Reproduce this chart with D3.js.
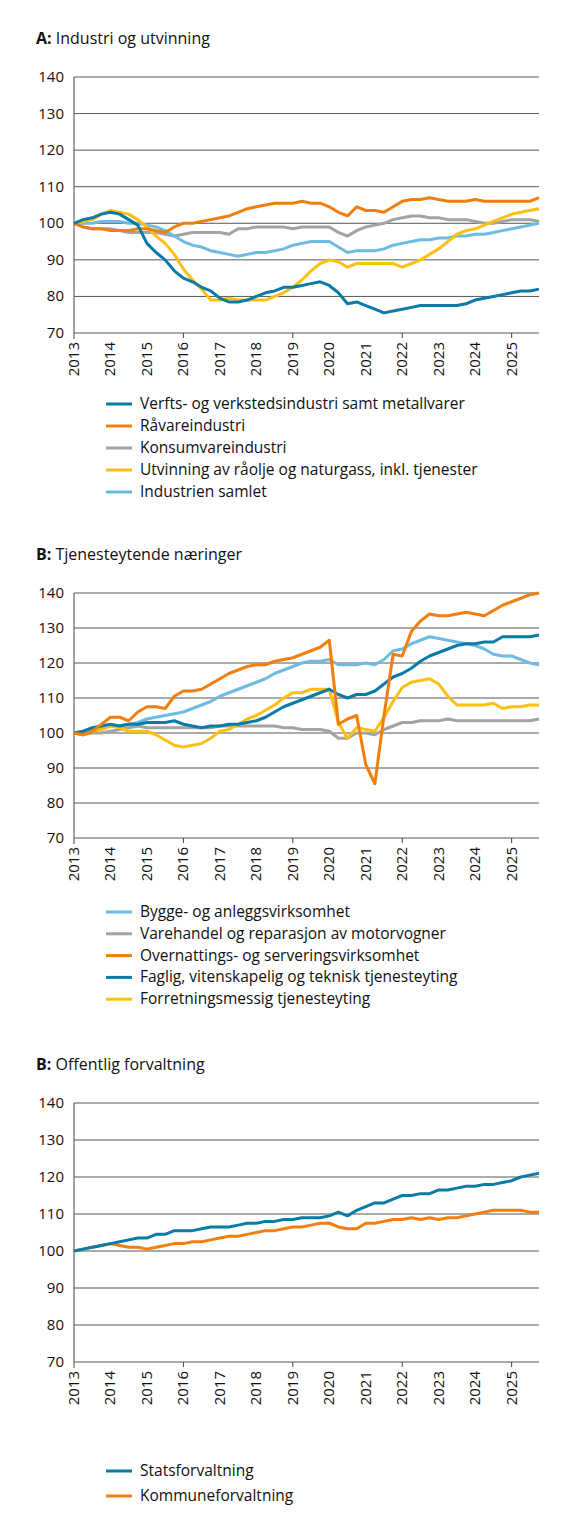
<!DOCTYPE html>
<html><head><meta charset="utf-8">
<script src="https://cdn.jsdelivr.net/npm/d3@7"></script>
<style>body{margin:0;background:#fff}svg{font-family:"Open Sans",sans-serif}</style>
</head><body><svg id="c" width="575" height="1538"></svg>
<script>
// quarterly index, 2013Q1 = 100
var years = d3.range(2013, 2026);
var yTicks = [70, 80, 90, 100, 110, 120, 130, 140];

var verksted = [100,101,101.5,102.5, 103,102.5,101,99.5, 94.5,92,90,87, 85,84,82.5,81.5, 79.5,78.5,78.5,79, 80,81,81.5,82.5, 82.5,83,83.5,84, 83,81,78,78.5, 77.5,76.5,75.5,76, 76.5,77,77.5,77.5, 77.5,77.5,77.5,78, 79,79.5,80,80.5, 81,81.5,81.5,82];
var raavare = [100,99,98.5,98.5, 98,98,98,98.5, 98.5,98,97.5,99, 100,100,100.5,101, 101.5,102,103,104, 104.5,105,105.5,105.5, 105.5,106,105.5,105.5, 104.5,103,102,104.5, 103.5,103.5,103,104.5, 106,106.5,106.5,107, 106.5,106,106,106, 106.5,106,106,106, 106,106,106,107];
var konsum = [100,99,98.5,98.5, 98.5,98,97.5,97.5, 97.5,97.5,97,96.5, 97,97.5,97.5,97.5, 97.5,97,98.5,98.5, 99,99,99,99, 98.5,99,99,99, 99,97.5,96.5,98, 99,99.5,100,101, 101.5,102,102,101.5, 101.5,101,101,101, 100.5,100,100,100.5, 101,101,101,100.5];
var utvinning = [100,100.5,101,102.5, 103.5,103,102.5,101, 99,96.5,94.5,91.5, 87.5,84.5,82,79, 79,79.5,79,79, 79,79,80,81, 82.5,84.5,87,89, 90,89.5,88,89, 89,89,89,89, 88,89,90,91.5, 93,95,97,98, 98.5,99.5,100.5,101.5, 102.5,103,103.5,104];
var industri = [100,100,100,100.5, 100.5,100.5,100,100, 99.5,99,98,96.5, 95,94,93.5,92.5, 92,91.5,91,91.5, 92,92,92.5,93, 94,94.5,95,95, 95,93.5,92,92.5, 92.5,92.5,93,94, 94.5,95,95.5,95.5, 96,96,96.5,96.5, 97,97,97.5,98, 98.5,99,99.5,100];

var bygge = [100,100.5,101,101.5, 102,102,102.5,103, 104,104.5,105,105.5, 106,107,108,109, 110.5,111.5,112.5,113.5, 114.5,115.5,117,118, 119,120,120.5,120.5, 121,119.5,119.5,119.5, 120,119.5,121,123.5, 124,125.5,126.5,127.5, 127,126.5,126,125.5, 125,124,122.5,122, 122,121,120,119.5];
var varehandel = [100,99.5,100,100, 100.5,101,101.5,102, 101.5,101.5,101.5,101.5, 101.5,101.5,101.5,101.5, 102,102,102,102, 102,102,102,101.5, 101.5,101,101,101, 100.5,98.5,98.5,100, 100,99.5,101,102, 103,103,103.5,103.5, 103.5,104,103.5,103.5, 103.5,103.5,103.5,103.5, 103.5,103.5,103.5,104];
var servering = [100,99.5,100.5,102.5, 104.5,104.5,103.5,106, 107.5,107.5,107,110.5, 112,112,112.5,114, 115.5,117,118,119, 119.5,119.5,120.5,121, 121.5,122.5,123.5,124.5, 126.5,102.5,104,105, 91,85.5,105,122.5, 122,129,132,134, 133.5,133.5,134,134.5, 134,133.5,135,136.5, 137.5,138.5,139.5,140];
var faglig = [100,100.5,101.5,102, 102.5,102,102.5,102.5, 103,103,103,103.5, 102.5,102,101.5,102, 102,102.5,102.5,103, 103.5,104.5,106,107.5, 108.5,109.5,110.5,111.5, 112.5,111,110,111, 111,112,114,116, 117,118.5,120.5,122, 123,124,125,125.5, 125.5,126,126,127.5, 127.5,127.5,127.5,128];
var forretning = [100,99.5,100.5,101, 102,101.5,100.5,100.5, 100.5,99.5,98,96.5, 96,96.5,97,98.5, 100.5,101,102.5,104, 105,106.5,108,110, 111.5,111.5,112.5,112.5, 112.5,103,98.5,101.5, 101,100.5,104.5,109, 113,114.5,115,115.5, 114,110.5,108,108, 108,108,108.5,107, 107.5,107.5,108,108];

var stat = [100,100.5,101,101.5, 102,102.5,103,103.5, 103.5,104.5,104.5,105.5, 105.5,105.5,106,106.5, 106.5,106.5,107,107.5, 107.5,108,108,108.5, 108.5,109,109,109, 109.5,110.5,109.5,111, 112,113,113,114, 115,115,115.5,115.5, 116.5,116.5,117,117.5, 117.5,118,118,118.5, 119,120,120.5,121];
var kommune = [100,100.5,101,101.5, 102,101.5,101,101, 100.5,101,101.5,102, 102,102.5,102.5,103, 103.5,104,104,104.5, 105,105.5,105.5,106, 106.5,106.5,107,107.5, 107.5,106.5,106,106, 107.5,107.5,108,108.5, 108.5,109,108.5,109, 108.5,109,109,109.5, 110,110.5,111,111, 111,111,110.5,110.5];

var C = {dblue:"#0a7ba6", orange:"#f07f0d", grey:"#a3a3a3", yellow:"#fdc010", lblue:"#6dbbe0"};

var panels = [
  {letter:"A:", title:"Industri og utvinning", top:77, bottom:333, legTop:404, legStep:22,
   series:[[verksted,C.dblue,"Verfts- og verkstedsindustri samt metallvarer"],[raavare,C.orange,"Råvareindustri"],
           [konsum,C.grey,"Konsumvareindustri"],[utvinning,C.yellow,"Utvinning av råolje og naturgass, inkl. tjenester"],
           [industri,C.lblue,"Industrien samlet"]],
   draw:[2,4,3,1,0]},
  {letter:"B:", title:"Tjenesteytende næringer", top:593, bottom:838, legTop:912, legStep:21.8,
   series:[[bygge,C.lblue,"Bygge- og anleggsvirksomhet"],[varehandel,C.grey,"Varehandel og reparasjon av motorvogner"],
           [servering,C.orange,"Overnattings- og serveringsvirksomhet"],[faglig,C.dblue,"Faglig, vitenskapelig og teknisk tjenesteyting"],
           [forretning,C.yellow,"Forretningsmessig tjenesteyting"]],
   draw:[1,0,4,3,2]},
  {letter:"B:", title:"Offentlig forvaltning", top:1103, bottom:1362, legTop:1471, legStep:25,
   series:[[stat,C.dblue,"Statsforvaltning"],[kommune,C.orange,"Kommuneforvaltning"]],
   draw:[1,0]}
];

var svg = d3.select("#c");
var x = d3.scaleLinear().domain([2013, 2025.75]).range([74, 539]);

panels.forEach(function(p){
  var g = svg.append("g");
  var y = d3.scaleLinear().domain([70, 140]).range([p.bottom, p.top]);

  var t = g.append("text").attr("x", 36).attr("y", p.top - 33).attr("font-size", 16).attr("fill", "#111");
  t.append("tspan").attr("font-weight", "bold").text(p.letter);
  t.append("tspan").text(" " + p.title);

  g.selectAll(".grid").data(yTicks).enter().append("line")
    .attr("x1", 74).attr("x2", 539).attr("y1", d => y(d)).attr("y2", d => y(d))
    .attr("stroke", "#444").attr("stroke-width", 0.9);
  g.selectAll(".yl").data(yTicks).enter().append("text")
    .attr("x", 64).attr("y", d => y(d) + 5).attr("text-anchor", "end")
    .attr("font-size", 15).attr("fill", "#111").text(d => d);
  g.append("line").attr("x1", 74).attr("x2", 74).attr("y1", p.top).attr("y2", p.bottom + 6)
    .attr("stroke", "#444").attr("stroke-width", 1);
  g.selectAll(".tk").data([2016, 2019, 2022, 2025]).enter().append("line")
    .attr("x1", d => x(d)).attr("x2", d => x(d)).attr("y1", p.bottom).attr("y2", p.bottom + 5)
    .attr("stroke", "#444");
  g.selectAll(".xl").data(years).enter().append("text")
    .attr("transform", d => "translate(" + (x(d) + 5) + "," + (p.bottom + 9) + ") rotate(-90)")
    .attr("text-anchor", "end").attr("font-size", 15).attr("fill", "#111").text(d => d);

  var line = d3.line().x((d, i) => x(2013 + i / 4)).y(d => y(d));
  p.draw.forEach(function(k){
    var s = p.series[k];
    g.append("path").datum(s[0]).attr("d", line).attr("fill", "none")
      .attr("stroke", s[1]).attr("stroke-width", 3).attr("stroke-linejoin", "round");
  });

  p.series.forEach(function(s, i){
    var ly = p.legTop + i * p.legStep;
    g.append("line").attr("x1", 106).attr("x2", 132).attr("y1", ly).attr("y2", ly)
      .attr("stroke", s[1]).attr("stroke-width", 3);
    g.append("text").attr("x", 140).attr("y", ly + 5).attr("font-size", 15.5).attr("fill", "#111").text(s[2]);
  });
});
</script></body></html>
